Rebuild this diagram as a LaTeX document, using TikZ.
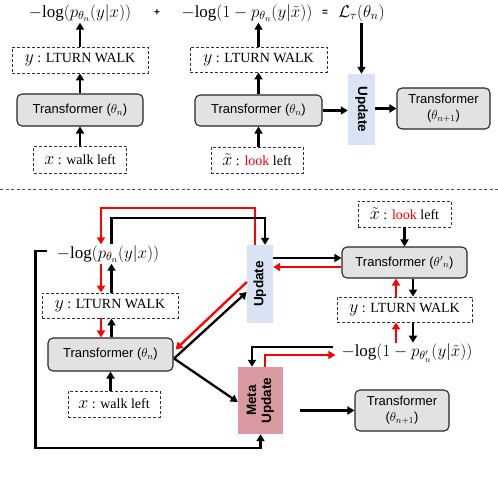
\documentclass[tikz,border=0pt]{standalone}
\usepackage{fix-cm}
\usepackage{fontspec}
\setmainfont{Liberation Serif}
\setsansfont{Liberation Sans}
\usetikzlibrary{arrows.meta,calc}
\definecolor{updblue}{HTML}{DAE3F3}
\definecolor{metapink}{HTML}{D99AA1}
\definecolor{tfgray}{HTML}{E2E2E2}
\begin{document}
\begin{tikzpicture}[x=1pt,y=-1pt,
  tf/.style={draw=black!85, fill=tfgray, rounded corners=5pt, line width=1.1pt, inner sep=0pt, align=center,
    font=\sffamily\fontsize{13}{16}\selectfont},
  db/.style={draw=black!80, dash pattern=on 3pt off 2pt, line width=0.9pt, inner sep=0pt,
    font=\fontsize{14}{16}\selectfont},
  fm/.style={inner sep=1pt, font=\fontsize{17}{20}\selectfont},
  sm/.style={inner sep=0pt, font=\sffamily\bfseries\fontsize{10}{12}\selectfont},
  ub/.style={fill=updblue, inner sep=0pt},
  mb/.style={fill=metapink, inner sep=0pt},
  rt/.style={font=\sffamily\bfseries\fontsize{13.5}{15}\selectfont, inner sep=0pt, align=center},
  ar/.style={-{Triangle[length=7pt,width=8pt]}, line width=2.3pt},
  rar/.style={ar, red}
]
\useasboundingbox (0,0) rectangle (498,482);
% ---------------- top part ----------------
\node[fm] (f1) at (80,13) {$-\!\log(p_{\theta_n}(y|x))$};
\node[sm] (plus) at (157,13) {+};
\node[fm] (f2) at (247,13) {$-\!\log(1-p_{\theta_n}(y|\tilde{x}))$};
\node[sm] (eq) at (325,13) {=};
\node[fm] (lt) at (361.5,13) {$\mathcal{L}_\tau(\theta_n)$};

\node[db, minimum width=136, minimum height=26] (y1) at (80,60) {{\fontsize{18}{20}\selectfont$y$} : LTURN WALK};
\node[tf, minimum width=126, minimum height=32] (t1) at (80,110) {Transformer ($\theta_n$)};
\node[db, minimum width=93, minimum height=27] (x1) at (80,159.5) {{\fontsize{18}{20}\selectfont$x$} : walk left};

\node[db, minimum width=137, minimum height=25] (y2) at (258.5,59.5) {{\fontsize{18}{20}\selectfont$y$} : LTURN WALK};
\node[tf, minimum width=127, minimum height=31] (t2) at (258.5,110.5) {Transformer ($\theta_n$)};
\node[db, minimum width=92, minimum height=26] (x2) at (257,160) {{\fontsize{18}{20}\selectfont$\tilde{x}$} : \textcolor{red}{look} left};

\node[ub, minimum width=27, minimum height=71] (u1) at (361.5,109.5) {};
\node[rt, rotate=-90] (u1t) at (u1) {Update};
\node[tf, minimum width=93, minimum height=41] (t3) at (443.5,108.5) {Transformer\\($\theta_{n+1}$)};

\draw[ar] (t1.north) -- (y1.south);
\draw[ar] (y1.north) -- (f1.south);
\draw[ar] (x1.north) -- (t1.south);
\draw[ar] (t2.north) -- (y2.south);
\draw[ar] (y2.north) -- (y2.north |- f2.south);
\draw[ar] (x2.north -| t2.south) -- (t2.south);
\draw[ar, line width=2.8pt] (lt.south) -- (u1.north);
\draw[ar] (t2.east) -- (t2.east -| u1.west);
\draw[ar] (u1.east |- t3.west) -- (t3.west);

% separator
\draw[black!70, line width=0.8pt, dash pattern=on 3pt off 2.5pt] (0,189.5) -- (498,189.5);

% ---------------- bottom part ----------------
\node[fm] (F1) at (108,254) {$-\!\log(p_{\theta_n}(y|x))$};
\node[db, minimum width=136, minimum height=25] (y3) at (110,305.5) {{\fontsize{18}{20}\selectfont$y$} : LTURN WALK};
\node[tf, minimum width=125, minimum height=33] (t4) at (110.5,354.5) {Transformer ($\theta_n$)};
\node[db, minimum width=92, minimum height=26] (x3) at (114,404) {{\fontsize{18}{20}\selectfont$x$} : walk left};

\node[ub, minimum width=26, minimum height=78] (u2) at (260,284) {};
\node[rt, rotate=90] (u2t) at (u2) {Update};

\node[db, minimum width=93, minimum height=26] (x4) at (404.5,214) {{\fontsize{18}{20}\selectfont$\tilde{x}$} : \textcolor{red}{look} left};
\node[tf, minimum width=125, minimum height=31] (t5) at (404.5,262.5) {Transformer (${\theta'}_n$)};
\node[db, minimum width=135, minimum height=25] (y4) at (404.5,309.5) {{\fontsize{18}{20}\selectfont$y$} : LTURN WALK};
\node[fm] (F2) at (407,353) {$-\!\log(1-p_{\theta'_n}(y|\tilde{x}))$};

\node[mb, minimum width=45, minimum height=67] (meta) at (260.5,400.5) {};
\node[rt, rotate=90] (metat) at (meta) {Meta\\Update};
\node[tf, minimum width=94, minimum height=41] (t6) at (402,410.5) {Transformer\\($\theta_{n+1}$)};

% left column arrows
\coordinate (rc) at ([xshift=-9pt]y3.north);
\coordinate (bc) at ([xshift=1.5pt]y3.north);
\draw[rar] (rc |- F1.south) -- (rc);
\draw[ar] (bc) -- (bc |- F1.south);
\draw[rar] (rc |- y3.south) -- (rc |- t4.north);
\draw[ar] (bc |- t4.north) -- (bc |- y3.south);
\draw[ar] (x3.north -| t4.south) -- (t4.south);

% loops over the top
\draw[rar] ([xshift=-5pt]u2.north) -- ++(0,-37) -| (rc |- F1.north);
\draw[ar] (bc |- F1.north) -- ++(0,-26) -| ([xshift=5pt]u2.north);

% left loop to meta update
\draw[ar] ($(F1.west)+(-9,-3)$) -- ++(-11,0) |- ($(meta.south)+(0,14)$) -- (meta.south);

% transformer theta_n <-> update / meta
\coordinate (t4o) at ($(t4.east)+(0.5,4)$);
\draw[ar] (t4o) -- ($(u2.west)+(0,8)$);
\draw[rar] ($(u2.west)+(0,-2)$) -- ($(t4.east)+(2,-5)$);
\draw[ar] (t4o) -- ($(meta.west)+(0,1.5)$);

% update <-> transformer theta'
\coordinate (ubk) at ($(u2.east)+(0,-26)$);
\coordinate (urd) at ($(u2.east)+(0,-17)$);
\draw[ar] (ubk) -- (ubk -| t5.west);
\draw[rar] (urd -| t5.west) -- (urd);
\draw[ar] (x4.south) -- (t5.north);

% right column arrows
\coordinate (r4) at ([xshift=-8.5pt]y4.north);
\coordinate (b4) at ([xshift=8.5pt]y4.north);
\draw[rar] (r4) -- (r4 |- t5.south);
\draw[ar] (b4 |- t5.south) -- (b4);
\draw[rar] (r4 |- F2.north) -- (r4 |- y4.south);
\draw[ar] (b4 |- y4.south) -- (b4 |- F2.north);

% F2 <-> meta update
\draw[ar] ($(F2.west)+(-7,-6)$) -| ([xshift=-8.5pt]meta.north);
\draw[rar] ([xshift=4.5pt]meta.north) |- ($(F2.west)+(-5,2)$);

% meta -> new transformer
\coordinate (ms) at ($(meta.east)+(17,0)$);
\draw[ar] (ms |- t6.west) -- (t6.west);
\end{tikzpicture}
\end{document}
